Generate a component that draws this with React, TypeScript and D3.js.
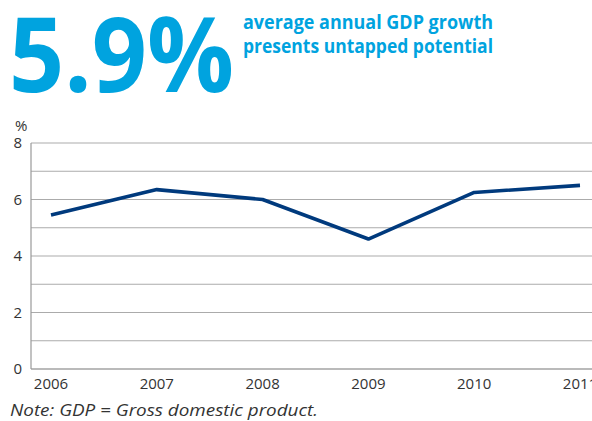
import React from "react";
import * as d3 from "d3";

const years = ["2006", "2007", "2008", "2009", "2010", "2011"];
const growth = [5.45, 6.35, 6.0, 4.6, 6.25, 6.5];
const yTicks = [0, 2, 4, 6, 8];
const gridValues = [0, 1, 2, 3, 4, 5, 6, 7, 8];

export default function App() {
  const W = 592, H = 421;
  const left = 31, top = 143, bottom = 369;
  const x = d3.scalePoint<string>().domain(years).range([51, 580]);
  const y = d3.scaleLinear().domain([0, 8]).range([bottom, top]);
  const line = d3.line<number>().x((_, i) => x(years[i]) as number).y((d) => y(d));
  const font = "'Open Sans', 'Noto Sans', sans-serif";
  return (
    <svg width={W} height={H} style={{ position: "absolute", left: 0, top: 0, background: "#fff" }}>
      <text x={9} y={92} fontFamily={font} fontWeight={700} fontSize={104} fill="#00a3df"
        textLength={225} lengthAdjust="spacingAndGlyphs">5.9%</text>
      <text x={243} y={29} fontFamily={font} fontWeight={700} fontSize={19} fill="#00a3df"
        textLength={250} lengthAdjust="spacingAndGlyphs">average annual GDP growth</text>
      <text x={243} y={53} fontFamily={font} fontWeight={700} fontSize={19} fill="#00a3df"
        textLength={250} lengthAdjust="spacingAndGlyphs">presents untapped potential</text>
      <text x={15} y={131} fontFamily={font} fontSize={15} fill="#333">%</text>
      {gridValues.map((v) => (
        <line key={v} x1={left} x2={W} y1={y(v)} y2={y(v)} stroke={v === 0 ? "#777" : "#ababab"} strokeWidth={1.2} />
      ))}
      <line x1={left} x2={left} y1={top} y2={bottom} stroke="#999" strokeWidth={1.2} />
      {yTicks.map((v) => (
        <text key={v} x={22} y={y(v)} dy="0.36em" textAnchor="end" fontFamily={font} fontSize={15} fill="#333">{v}</text>
      ))}
      {years.map((yr) => (
        <text key={yr} x={x(yr) as number} y={389} textAnchor="middle" fontFamily={font} fontSize={15} fill="#333">{yr}</text>
      ))}
      <path d={line(growth) as string} fill="none" stroke="#003a7d" strokeWidth={3.6} strokeLinejoin="round" />
      <text x={10} y={416} fontFamily={font} fontStyle="italic" fontSize={17} fill="#333"
        textLength={308} lengthAdjust="spacingAndGlyphs">Note: GDP = Gross domestic product.</text>
    </svg>
  );
}
